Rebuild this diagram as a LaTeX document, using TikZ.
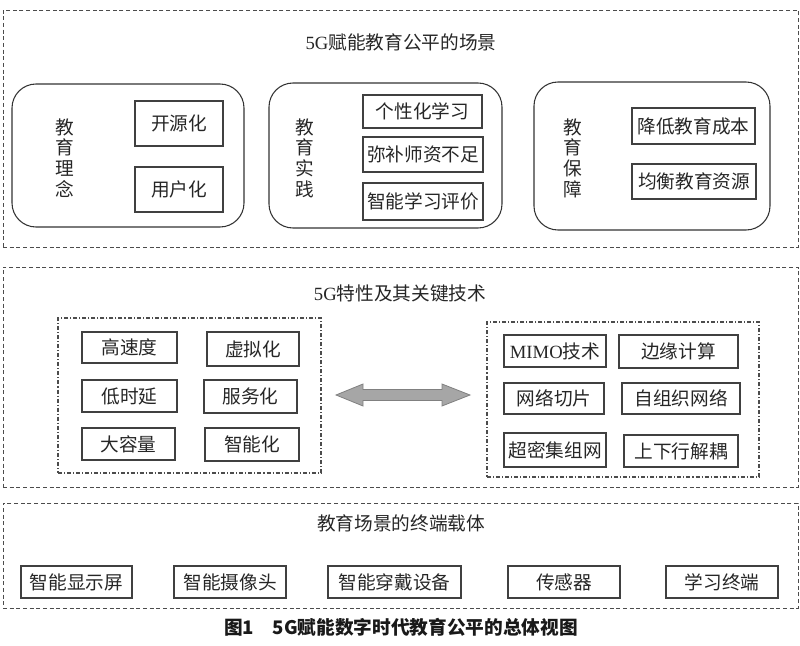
\documentclass[tikz,border=0pt]{standalone}
\usepackage{fontspec}
\setmainfont{Noto Sans CJK SC}
\newfontfamily\lat{Liberation Serif}
\usetikzlibrary{fit,calc}
\begin{document}
\begin{tikzpicture}[x=0.75pt,y=-0.75pt,
  font=\fontsize{14}{15.5}\selectfont, text=black!85,
  outer/.style={draw=black!70, line width=0.7pt, dash pattern=on 3pt off 2pt, inner sep=0pt},
  innerbox/.style={draw=black!70, line width=0.8pt, dash pattern=on 3pt off 1.5pt on 0.8pt off 1.5pt, inner sep=0pt},
  group/.style={draw=black!80, line width=0.8pt, rounded corners=18pt, inner sep=0pt},
  cell/.style={draw=black!75, line width=0.8pt, inner sep=0pt},
  ctext/.style={label={[inner sep=0pt, text=black!85]center:#1}},
  vlabel/.style={align=center, inner sep=0pt},
  title/.style={inner sep=0pt},
  arrowfill/.style={fill=black!35, draw=black!50, line width=0.6pt}]
\useasboundingbox (0,0) rectangle (800,646);

% ---------- outer boxes ----------
\node[outer, fit={(3,10)(798,247)}] (B1) {};
\node[outer, fit={(3,267)(798,487)}] (B2) {};
\node[outer, fit={(3,503)(798,608)}] (B3) {};

% ---------- section 1 ----------
\node[title] (T1) at (401,42) {{\lat 5G}赋能教育公平的场景};

\node[group, fit={(12,84)(244,227)}] (G1) {};
\node[vlabel] (V1) at (65,158) {教\\育\\理\\念};
\node[cell, fit={(135,101)(223,146)}, ctext={开源化}] (c11) {};
\node[cell, fit={(135,167)(223,212)}, ctext={用户化}] (c12) {};

\node[group, fit={(269,83)(502,228)}] (G2) {};
\node[vlabel] (V2) at (305,158) {教\\育\\实\\践};
\node[cell, fit={(363,95)(482,128)}, ctext={个性化学习}] (c21) {};
\node[cell, fit={(363,137)(483,172)}, ctext={弥补师资不足}] (c22) {};
\node[cell, fit={(363,183)(483,220)}, ctext={智能学习评价}] (c23) {};

\node[group, fit={(534,82)(770,230)}] (G3) {};
\node[vlabel] (V3) at (573,158) {教\\育\\保\\障};
\node[cell, fit={(632,108)(755,144)}, ctext={降低教育成本}] (c31) {};
\node[cell, fit={(632,164)(756,199)}, ctext={均衡教育资源}] (c32) {};

% ---------- section 2 ----------
\node[title] (T2) at (400,293) {{\lat 5G}特性及其关键技术};

\node[innerbox, fit={(58,318)(321,473)}] (L) {};
\node[cell, fit={(82,332)(177,363)}, ctext={高速度}] (l1) {};
\node[cell, fit={(207,332)(299,366)}, ctext={虚拟化}] (l2) {};
\node[cell, fit={(82,380)(177,412)}, ctext={低时延}] (l3) {};
\node[cell, fit={(204,380)(297,413)}, ctext={服务化}] (l4) {};
\node[cell, fit={(82,428)(175,460)}, ctext={大容量}] (l5) {};
\node[cell, fit={(205,428)(299,461)}, ctext={智能化}] (l6) {};

\node[innerbox, fit={(487,322)(759,477)}] (R) {};
\node[cell, fit={(504,335)(606,367)}, ctext={{\lat MIMO}技术}] (r1) {};
\node[cell, fit={(619,335)(738,368)}, ctext={边缘计算}] (r2) {};
\node[cell, fit={(504,383)(604,414)}, ctext={网络切片}] (r3) {};
\node[cell, fit={(622,383)(740,414)}, ctext={自组织网络}] (r4) {};
\node[cell, fit={(504,433)(606,467)}, ctext={超密集组网}] (r5) {};
\node[cell, fit={(624,435)(738,467)}, ctext={上下行解耦}] (r6) {};

% double arrow between L and R
\coordinate (aL) at (336,395);
\coordinate (aR) at (470,395);
\draw[arrowfill] (aL) -- ($(aL)+(27,-11)$) -- ($(aL)+(27,-5.5)$) -- ($(aR)+(-28,-5.5)$)
  -- ($(aR)+(-28,-11)$) -- (aR) -- ($(aR)+(-28,11)$) -- ($(aR)+(-28,5.5)$)
  -- ($(aL)+(27,5.5)$) -- ($(aL)+(27,11)$) -- cycle;

% ---------- section 3 ----------
\node[title] (T3) at (401,523) {教育场景的终端载体};
\node[cell, fit={(21,566)(132,598)}, ctext={智能显示屏}] (e1) {};
\node[cell, fit={(174,566)(286,598)}, ctext={智能摄像头}] (e2) {};
\node[cell, fit={(328,566)(461,598)}, ctext={智能穿戴设备}] (e3) {};
\node[cell, fit={(508,566)(620,598)}, ctext={传感器}] (e4) {};
\node[cell, fit={(666,566)(778,598)}, ctext={学习终端}] (e5) {};

% ---------- caption ----------
\node[title, font=\fontsize{14}{16}\selectfont\bfseries, text=black!90] (CAP) at (401,627)
  {图1\hspace{1em}5G赋能数字时代教育公平的总体视图};
\end{tikzpicture}
\end{document}
